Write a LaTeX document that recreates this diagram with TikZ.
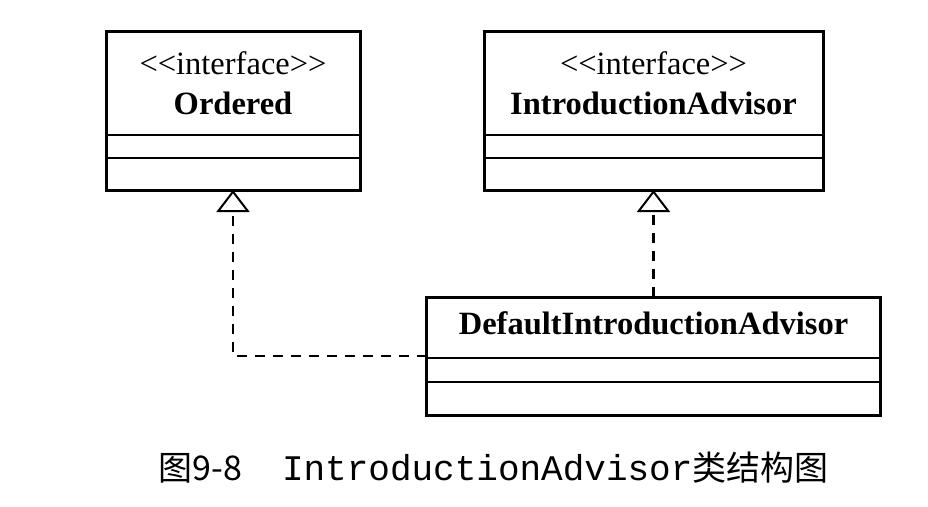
\documentclass[tikz,border=0pt]{standalone}
\usepackage{fontspec}
\setmainfont{Liberation Serif}
\newfontfamily\cjkfont{Noto Sans CJK SC}
\newfontfamily\codefont{Liberation Mono}
\usetikzlibrary{arrows.meta, positioning, fit}

\begin{document}
\begin{tikzpicture}[
    x=1pt, y=1pt,
    compart/.style={rectangle, draw, line width=2pt, inner sep=0pt, outer sep=0pt, align=center, font=\fontsize{32.5}{40}\selectfont},
    classframe/.style={rectangle, draw, line width=3pt, inner sep=0pt, outer sep=0pt},
    realize/.style={line width=2.5pt, dash pattern=on 10pt off 8pt, -{Triangle[open, length=22pt, width=33pt, line width=2pt]}}
]
\useasboundingbox (0,0) rectangle (928,-506);

% Ordered
\node[compart, minimum width=254pt, minimum height=104pt] (ordName) at (233,-83) {<\kern0pt<interface>\kern0pt>\\\textbf{Ordered}};
\node[compart, minimum width=254pt, minimum height=23pt, below=0pt of ordName] (ordAttr) {};
\node[compart, minimum width=254pt, minimum height=32pt, below=0pt of ordAttr] (ordOps) {};
\node[classframe, fit=(ordName)(ordOps)] (ord) {};

% IntroductionAdvisor
\node[compart, minimum width=339pt, minimum height=104pt, right=124pt of ordName] (introName) {<\kern0pt<interface>\kern0pt>\\\textbf{IntroductionAdvisor}};
\node[compart, minimum width=339pt, minimum height=23pt, below=0pt of introName] (introAttr) {};
\node[compart, minimum width=339pt, minimum height=32pt, below=0pt of introAttr] (introOps) {};
\node[classframe, fit=(introName)(introOps)] (intro) {};

% DefaultIntroductionAdvisor
\node[compart, minimum width=454pt, minimum height=61pt, text depth=8pt, below=107pt of introOps] (dfltName) {\textbf{DefaultIntroductionAdvisor}};
\node[compart, minimum width=454pt, minimum height=24pt, below=0pt of dfltName] (dfltAttr) {};
\node[compart, minimum width=454pt, minimum height=33pt, below=0pt of dfltAttr] (dfltOps) {};
\node[classframe, fit=(dfltName)(dfltOps)] (dflt) {};

% Caption
\node[font=\fontsize{34}{40}\selectfont] (caption) at (493.5,-468) {{\cjkfont 图9-8}\hspace{40pt}{\codefont\fontsize{36}{40}\selectfont IntroductionAdvisor}{\cjkfont 类结构图}};

% Realizations
\draw[realize] (dflt.west) -| (ord.south);
\draw[realize] (dflt.north) -- (dflt.north |- intro.south);

\end{tikzpicture}
\end{document}
